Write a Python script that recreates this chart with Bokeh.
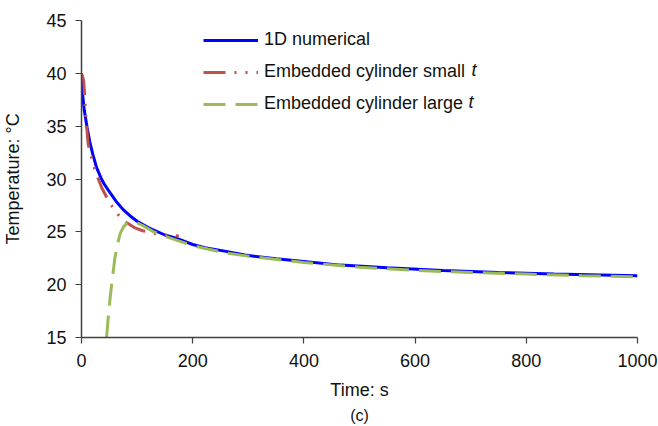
from bokeh.plotting import figure
from bokeh.models import Title, Legend, LegendItem, FixedTicker, Label
from bokeh.embed import file_html
from bokeh.resources import INLINE

t_num = [0, 2, 5, 10, 15, 20, 27, 35, 41, 50, 62, 75, 90, 100, 120, 150, 170, 200, 222, 260, 294, 350, 400, 466, 550, 650, 750, 850, 1000]
T_num = [40.0, 38.0, 36.5, 34.9, 33.5, 32.4, 31.1, 30.1, 29.5, 28.8, 27.9, 27.1, 26.4, 26.0, 25.4, 24.7, 24.4, 23.8, 23.5, 23.15, 22.8, 22.45, 22.2, 21.85, 21.6, 21.35, 21.15, 21.0, 20.85]

t_small = [0, 4, 8, 12, 21, 28, 37, 47, 60, 68, 80, 95, 110, 130, 150, 175]
T_small = [40.0, 39.3, 35.8, 33.3, 31.4, 30.3, 29.1, 28.1, 27.0, 26.5, 25.9, 25.4, 25.1, 24.85, 24.7, 24.6]

t_large = [45, 48, 52, 56, 60, 65, 70, 76, 82, 90, 98, 110, 130, 160, 200, 260, 300, 400, 500, 600, 700, 800, 900, 1000]
T_large = [15.0, 16.8, 19.0, 20.8, 22.5, 23.9, 24.9, 25.5, 25.8, 25.95, 25.9, 25.6, 25.0, 24.4, 23.7, 23.0, 22.7, 22.1, 21.65, 21.35, 21.15, 21.0, 20.85, 20.75]

x_ticks = [0, 200, 400, 600, 800, 1000]
y_ticks = [15, 20, 25, 30, 35, 40, 45]

labels = ["1D numerical", "Embedded cylinder small", "Embedded cylinder large"]
italic_suffix = "t"

FONT = "Liberation Sans"
FS = "18px"
TXT = "#111111"

p = figure(width=658, height=426, x_range=(0, 1000), y_range=(15, 45),
           output_backend="svg", toolbar_location=None,
           min_border_left=77, min_border_right=21, min_border_top=20, min_border_bottom=89)
p.outline_line_color = None
p.grid.visible = False
p.background_fill_color = "white"

r_num = p.line(t_num, T_num, line_color="#0000FF", line_width=3)
r_small = p.line(t_small, T_small, line_color="#C0504D", line_width=3, line_dash="22 9 2 9 2 9")
r_large = p.line(t_large, T_large, line_color="#9BBB59", line_width=3, line_dash="22 10")

for ax in (p.xaxis[0], p.yaxis[0]):
    ax.axis_line_color = "#404040"
    ax.axis_line_width = 1.5
    ax.major_tick_line_color = "#404040"
    ax.major_tick_line_width = 1.2
    ax.major_tick_in = 0
    ax.major_tick_out = 6
    ax.minor_tick_line_color = None
    ax.major_label_text_font = FONT
    ax.major_label_text_font_size = FS
    ax.major_label_text_color = TXT
    ax.axis_label_text_font = FONT
    ax.axis_label_text_font_size = FS
    ax.axis_label_text_font_style = "normal"
    ax.axis_label_text_color = TXT

p.xaxis[0].ticker = FixedTicker(ticks=x_ticks)
p.yaxis[0].ticker = FixedTicker(ticks=y_ticks)
p.xaxis[0].axis_label = "Time: s"
p.yaxis[0].axis_label = "Temperature: °C"
p.xaxis[0].major_label_standoff = 10
p.yaxis[0].major_label_standoff = 9
p.xaxis[0].axis_label_standoff = 10
p.yaxis[0].axis_label_standoff = 20

legend = Legend(items=[
    LegendItem(label=labels[0], renderers=[r_num]),
    LegendItem(label=labels[1], renderers=[r_small]),
    LegendItem(label=labels[2], renderers=[r_large]),
], location=(122, 223))
legend.border_line_color = None
legend.background_fill_alpha = 0
legend.label_text_font = FONT
legend.label_text_font_size = FS
legend.label_text_color = TXT
legend.glyph_width = 55
legend.glyph_height = 20
legend.label_height = 20
legend.spacing = 11
legend.padding = 0
legend.margin = 0
legend.label_standoff = 6
p.add_layout(legend)

for xs, ys in ((390, 268), (387, 236)):
    p.add_layout(Label(x=xs, y=ys, x_units="screen", y_units="screen",
                       text=italic_suffix, text_font=FONT, text_font_size=FS,
                       text_font_style="italic", text_color=TXT,
                       text_baseline="middle", text_align="left"))

cap = Title(text="(c)", align="center", text_font=FONT, text_font_size="16px",
            text_font_style="normal", text_color=TXT, standoff=5, offset=0)
p.add_layout(cap, "below")

open("out.html", "w").write(file_html(p, INLINE))
